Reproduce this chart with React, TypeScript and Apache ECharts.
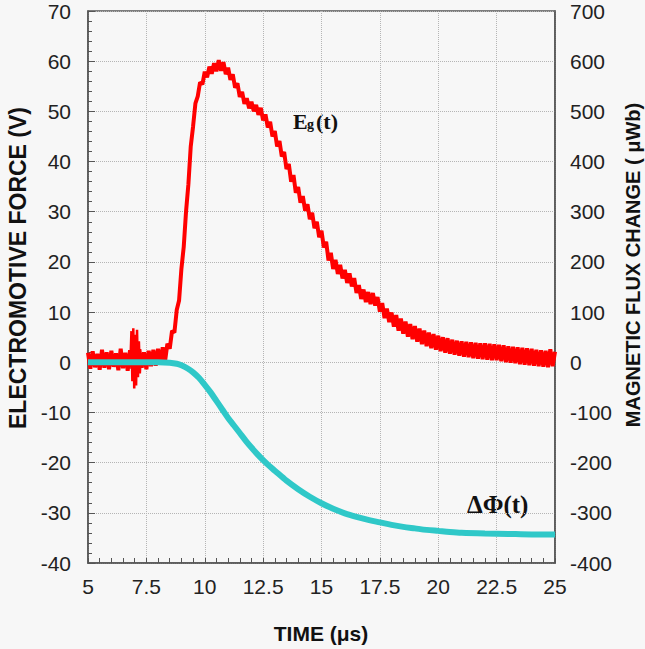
import React, { useEffect, useRef } from "react";
import * as echarts from "echarts";

// x ticks
const xTicks = [5, 7.5, 10, 12.5, 15, 17.5, 20, 22.5, 25];

// Eg(t): electromotive force (V), sampled every 0.1 µs from 5.0 µs
const egStart = 5.0;
const egStep = 0.1;
const egValues = [
  1.9, -1.3, 2.2, -1.0, 1.7, -1.5, 2.5, -1.1, 2.0, -1.4,
  2.3, -0.9, 1.8, -1.6, 2.7, -1.2, 1.9, -1.7, 2.4, -1.3,
  2.1, -1.5, 2.6, -1.1, 2.0, -1.4, 2.3, -0.8, 2.5, -0.7,
  2.7, -0.3, 3.0, 0.2, 3.7, 2.7, 6.3, 5.9, 10.4, 12.3,
  18.6, 23.0, 30.1, 35.5, 43.0, 47.0, 51.6, 53.0, 55.8, 55.4,
  57.9, 56.8, 58.9, 57.5, 59.6, 58.0, 60.2, 58.1, 59.8, 57.4,
  58.7, 56.3, 57.4, 54.7, 55.6, 52.9, 53.9, 51.5, 52.6, 50.6,
  51.9, 50.0, 51.3, 49.3, 50.7, 48.2, 49.4, 46.8, 47.9, 45.0,
  46.1, 43.0, 44.1, 41.0, 41.9, 38.5, 39.5, 36.0, 37.3, 33.8,
  34.9, 31.8, 33.1, 30.2, 31.5, 28.5, 29.8, 26.7, 28.0, 24.9,
  26.2, 22.9, 24.0, 20.3, 21.8, 18.6, 20.4, 17.6, 19.4, 16.7,
  18.4, 15.8, 17.7, 15.1, 16.8, 13.8, 15.4, 12.6, 14.5, 12.0,
  14.0, 11.6, 13.8, 11.3, 13.0, 10.1, 11.8, 8.8, 10.7, 8.0,
  9.9, 7.1, 9.4, 6.3, 8.7, 5.7, 8.1, 5.1, 7.6, 4.6,
  7.2, 4.1, 6.7, 3.6, 6.3, 3.2, 5.9, 2.8, 5.6, 2.5,
  5.3, 2.2, 5.0, 1.9, 4.8, 1.7, 4.5, 1.5, 4.3, 1.3,
  4.2, 1.1, 4.1, 1.0, 4.0, 0.8, 3.9, 0.7, 3.8, 0.6,
  3.8, 0.5, 3.7, 0.4, 3.6, 0.4, 3.5, 0.2, 3.4, 0.0,
  3.2, -0.1, 3.1, -0.2, 3.0, -0.4, 2.9, -0.5, 2.8, -0.6,
  2.7, -0.7, 2.5, -0.8, 2.4, -0.9, 2.3, -1.0, 2.6, -0.8,
  2.1,
];

// burst of noise around 7 µs
const burstTimes = [6.82, 6.86, 6.9, 6.94, 6.98, 7.02, 7.06, 7.1, 7.14, 7.18, 7.22, 7.26];
const burstValues = [0.5, 6.2, -3.8, 6.8, -5.2, 5.5, -4.6, 6.5, -3.0, 4.2, -2.2, 1.0];

// ΔΦ(t): magnetic flux change (µWb)
const phiTimes = [
  5.0, 6.0, 7.0, 8.0, 8.5, 8.8, 9.0, 9.25, 9.5, 9.75, 10.0, 10.25, 10.5, 10.75,
  11.0, 11.25, 11.5, 11.75, 12.0, 12.25, 12.5, 12.75, 13.0, 13.5, 14.0, 14.5,
  15.0, 15.5, 16.0, 16.5, 17.0, 17.5, 18.0, 18.5, 19.0, 19.5, 20.0, 20.5, 21.0,
  22.0, 23.0, 24.0, 25.0,
];
const phiValues = [
  0, 0, 0, 0, -1, -3, -6, -12, -20, -31, -45, -60, -77, -94,
  -111, -126, -141, -156, -170, -183, -195, -206, -216, -236, -253, -268,
  -281, -292, -301, -308, -314, -319, -324, -328, -331, -334, -336, -338, -339.5,
  -341, -342, -343, -343,
];

const SANS = '"Liberation Sans", Arial, sans-serif';
const SERIF = '"Liberation Serif", "Times New Roman", serif';

export default function App() {
  const ref = useRef<HTMLDivElement>(null);
  useEffect(() => {
    if (!ref.current) return;
    const chart = echarts.init(ref.current, null, { renderer: "svg" });
    const egData = egValues.map((v, i) => [+(egStart + i * egStep).toFixed(2), v]);
    const burstData = burstTimes.map((t, i) => [t, burstValues[i]]);
    const phiData = phiTimes.map((t, i) => [t, phiValues[i]]);
    const tickLabel = { color: "#222", fontSize: 21, fontFamily: SANS };
    chart.setOption({
      animation: false,
      backgroundColor: "#f7f7f7",
      grid: {
        left: 88,
        right: 90,
        top: 11,
        bottom: 86,
        show: true,
        borderColor: "#555",
        borderWidth: 1.5,
        containLabel: false,
      },
      xAxis: {
        type: "value",
        min: 5,
        max: 25,
        interval: 2.5,
        axisLine: { show: true, onZero: false, lineStyle: { color: "#555", width: 1.5 } },
        axisTick: { show: true, inside: true, length: 5, lineStyle: { color: "#555" } },
        minorTick: { show: true, splitNumber: 5, length: 5, lineStyle: { color: "#555" } },
        axisLabel: { ...tickLabel, margin: 13, formatter: (v: number) => (xTicks.includes(v) ? String(v) : "") },
        splitLine: { show: true, lineStyle: { color: "#b5b5b5", type: "dotted", width: 1 } },
      },
      yAxis: [
        {
          type: "value",
          min: -40,
          max: 70,
          interval: 10,
          axisLine: { show: true, onZero: false, lineStyle: { color: "#555", width: 1.5 } },
          axisTick: { show: true, inside: true, length: 7, lineStyle: { color: "#555" } },
          minorTick: { show: true, splitNumber: 5, length: 4, lineStyle: { color: "#555" } },
          axisLabel: { ...tickLabel, margin: 17 },
          splitLine: { show: true, lineStyle: { color: "#b5b5b5", type: "dotted", width: 1 } },
        },
        {
          type: "value",
          min: -400,
          max: 700,
          interval: 100,
          position: "right",
          axisLine: { show: true, onZero: false, lineStyle: { color: "#555", width: 1.5 } },
          axisTick: { show: false },
          axisLabel: { ...tickLabel, margin: 15 },
          splitLine: { show: false },
        },
      ],
      series: [
        {
          name: "Eg(t)",
          type: "line",
          yAxisIndex: 0,
          data: egData,
          showSymbol: false,
          lineStyle: { color: "#ff0000", width: 4 },
          itemStyle: { color: "#ff0000" },
          z: 2,
        },
        {
          name: "Eg(t) burst",
          type: "line",
          yAxisIndex: 0,
          data: burstData,
          showSymbol: false,
          lineStyle: { color: "#ff0000", width: 2.5 },
          z: 2,
        },
        {
          name: "ΔΦ(t)",
          type: "line",
          yAxisIndex: 1,
          data: phiData,
          showSymbol: false,
          smooth: 0.3,
          lineStyle: { color: "#2fc8c8", width: 6 },
          itemStyle: { color: "#2fc8c8" },
          z: 3,
        },
      ],
      graphic: [
        {
          type: "text",
          x: 18,
          y: 268,
          rotation: Math.PI / 2,
          style: { text: "ELECTROMOTIVE FORCE (V)", font: `bold 23px ${SANS}`, fill: "#111", align: "center", verticalAlign: "middle" },
        },
        {
          type: "text",
          x: 633,
          y: 265,
          rotation: Math.PI / 2,
          style: { text: "MAGNETIC FLUX CHANGE ( μWb)", font: `bold 20px ${SANS}`, fill: "#111", align: "center", verticalAlign: "middle" },
        },
        {
          type: "text",
          x: 321,
          y: 633,
          style: { text: "TIME (μs)", font: `bold 21px ${SANS}`, fill: "#111", align: "center", verticalAlign: "middle" },
        },
        {
          type: "text",
          x: 293,
          y: 121,
          style: { text: "E", font: `bold 22px ${SERIF}`, fill: "#111", align: "left", verticalAlign: "middle" },
        },
        {
          type: "text",
          x: 307,
          y: 124,
          style: { text: "g", font: `bold 14px ${SERIF}`, fill: "#111", align: "left", verticalAlign: "middle" },
        },
        {
          type: "text",
          x: 316,
          y: 121,
          style: { text: "(t)", font: `bold 22px ${SERIF}`, fill: "#111", align: "left", verticalAlign: "middle" },
        },
        {
          type: "text",
          x: 467,
          y: 504,
          style: { text: "ΔΦ(t)", font: `bold 25px ${SERIF}`, fill: "#111", align: "left", verticalAlign: "middle" },
        },
      ],
    });
    return () => chart.dispose();
  }, []);
  return (
    <div
      ref={ref}
      style={{ position: "absolute", left: 0, top: 0, width: 645, height: 649 }}
    />
  );
}
